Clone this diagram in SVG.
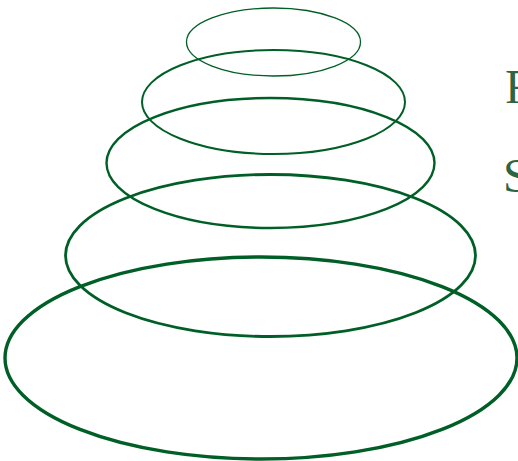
<svg xmlns="http://www.w3.org/2000/svg" width="518" height="461" viewBox="0 0 518 461">
<style>
.e{fill:none;stroke:#005f26}
.t{font-family:"Liberation Serif",serif;fill:#2f6440;font-size:48px}
</style>
<rect width="518" height="461" fill="#fff"/>
<g id="ring1"><ellipse class="e" cx="273.5" cy="42" rx="87" ry="34" stroke-width="1.3"/></g>
<g id="ring2"><ellipse class="e" cx="273.5" cy="102" rx="131.5" ry="52" stroke-width="2"/></g>
<g id="ring3"><ellipse class="e" cx="270.5" cy="163" rx="164" ry="65" stroke-width="2.4"/></g>
<g id="ring4"><ellipse class="e" cx="270.5" cy="255.5" rx="205" ry="81" stroke-width="2.8"/></g>
<g id="ring5"><ellipse class="e" cx="261" cy="358" rx="256" ry="101" stroke-width="3.4"/></g>
<g id="labels">
<text class="t" x="505" y="103">F</text>
<text class="t" x="503" y="192">S</text>
</g>
</svg>
